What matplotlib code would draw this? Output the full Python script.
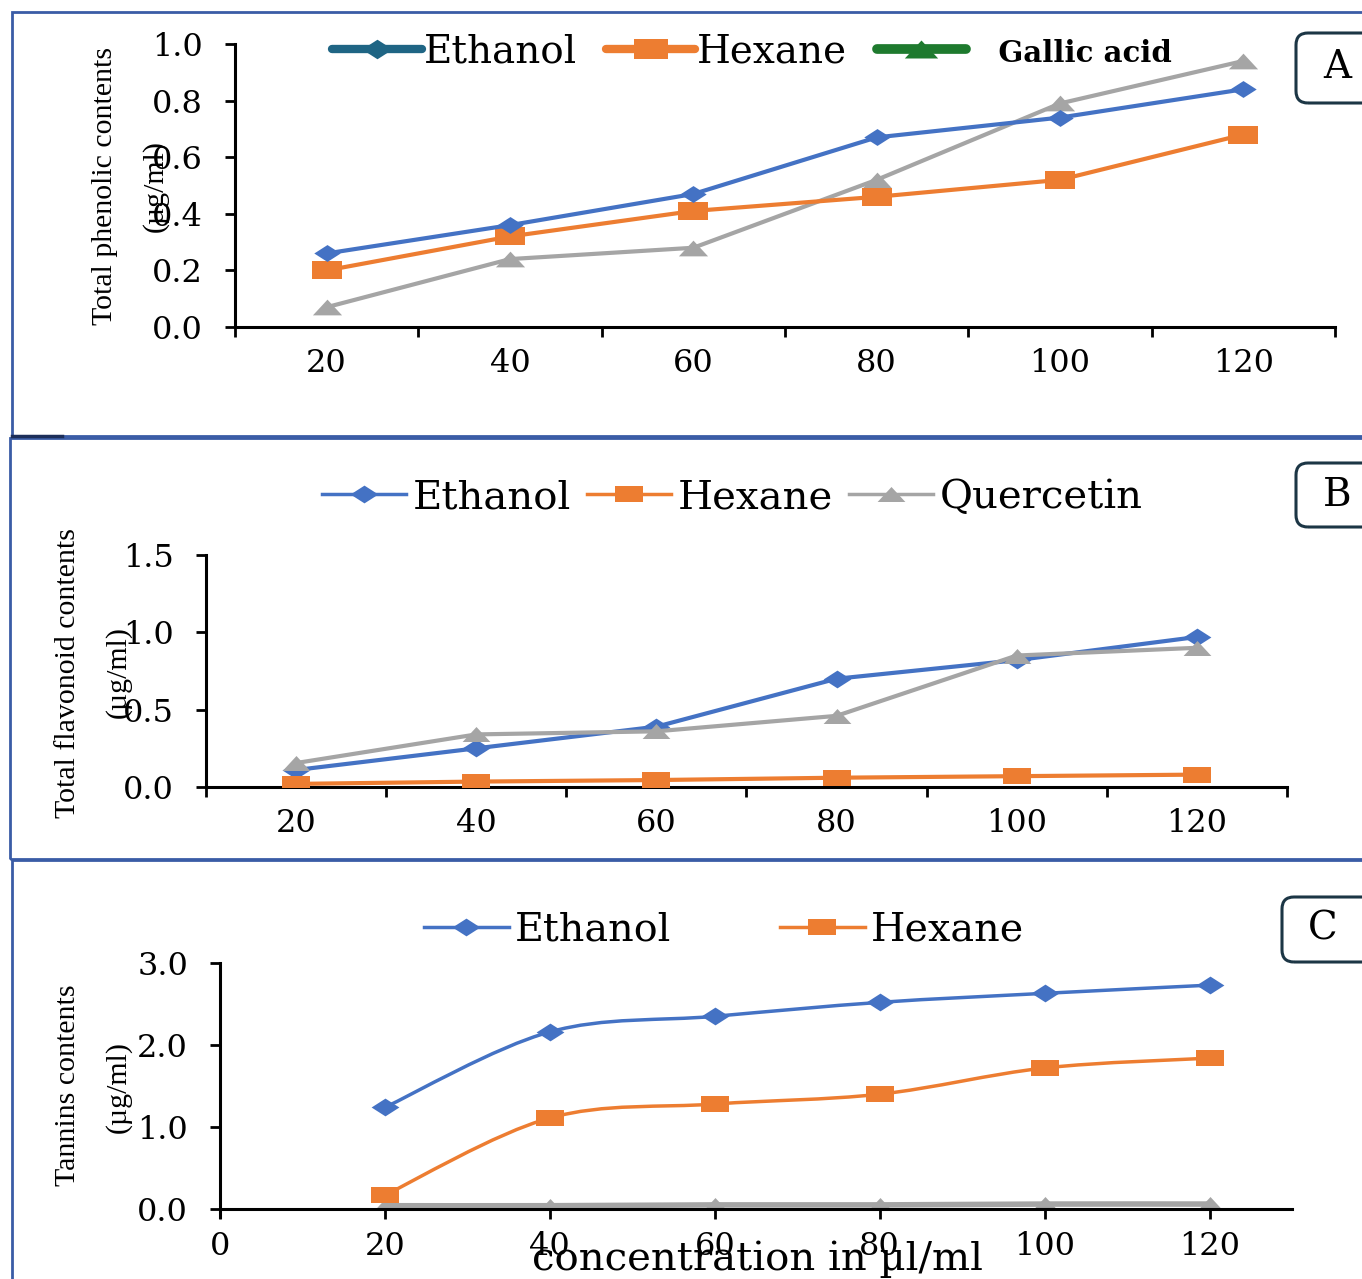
import numpy as np
import matplotlib
matplotlib.use("Agg")
import matplotlib.pyplot as plt
from matplotlib.path import Path
from matplotlib.patches import PathPatch, Rectangle, FancyBboxPatch
from matplotlib.lines import Line2D

# ---- data ----
conc = [20, 40, 60, 80, 100, 120]
conc_labels = ["20", "40", "60", "80", "100", "120"]

# A: total phenolic contents (ug/ml)
phen_ethanol = [0.26, 0.36, 0.47, 0.67, 0.74, 0.84]
phen_hexane = [0.20, 0.32, 0.41, 0.46, 0.52, 0.68]
phen_gallic = [0.07, 0.24, 0.28, 0.52, 0.79, 0.94]

# B: total flavonoid contents (ug/ml)
flav_ethanol = [0.11, 0.25, 0.39, 0.70, 0.82, 0.97]
flav_hexane = [0.02, 0.035, 0.045, 0.06, 0.07, 0.08]
flav_quercetin = [0.155, 0.34, 0.36, 0.46, 0.85, 0.90]

# C: tannins contents (ug/ml)
tan_ethanol = [1.24, 2.16, 2.35, 2.52, 2.63, 2.73]
tan_hexane = [0.17, 1.11, 1.28, 1.40, 1.72, 1.84]
tan_std = [0.04, 0.04, 0.05, 0.05, 0.06, 0.06]

BLUE = "#4472C4"
ORANGE = "#ED7D31"
GRAY = "#A5A5A5"
TEAL = "#1F6584"
GREEN = "#1E7A2E"
FRAME = "#3A5CA6"
SERIF = "DejaVu Serif"
SERIF2 = "Liberation Serif"

# stretched marker shapes (source picture is wider than tall)
DIAMOND = Path([(0, 0.32), (0.5, 0), (0, -0.32), (-0.5, 0), (0, 0.32)],
               [Path.MOVETO, Path.LINETO, Path.LINETO, Path.LINETO, Path.CLOSEPOLY])
SQUARE = Path([(-0.5, -0.3), (0.5, -0.3), (0.5, 0.3), (-0.5, 0.3), (-0.5, -0.3)],
              [Path.MOVETO, Path.LINETO, Path.LINETO, Path.LINETO, Path.CLOSEPOLY])
TRIANGLE = Path([(-0.5, -0.27), (0.5, -0.27), (0, 0.27), (-0.5, -0.27)],
                [Path.MOVETO, Path.LINETO, Path.LINETO, Path.CLOSEPOLY])


def smooth_path(x, y):
    # Excel style smoothed line as cubic bezier segments
    pts = np.column_stack([x, y]).astype(float)
    n = len(pts)
    verts = [pts[0]]
    codes = [Path.MOVETO]
    for i in range(n - 1):
        p0 = pts[max(i - 1, 0)]
        p1 = pts[i]
        p2 = pts[i + 1]
        p3 = pts[min(i + 2, n - 1)]
        verts += [p1 + (p2 - p0) / 6, p2 - (p3 - p1) / 6, p2]
        codes += [Path.CURVE4] * 3
    return Path(verts, codes)


W, H = 1362, 1279
fig = plt.figure(figsize=(W / 100, H / 100), dpi=100)


def px_axes(l, t, r, b):
    return fig.add_axes([l / W, 1 - b / H, (r - l) / W, (b - t) / H])


def style_axes(ax, yfmt="%.1f"):
    for s in ["top", "right"]:
        ax.spines[s].set_visible(False)
    for s in ["left", "bottom"]:
        ax.spines[s].set_linewidth(2.2)
        ax.spines[s].set_color("black")
    ax.tick_params(axis="both", which="major", direction="out", length=7, width=2,
                   labelsize=23, colors="black")
    ax.tick_params(axis="y", pad=16)
    ax.yaxis.set_major_formatter(matplotlib.ticker.FormatStrFormatter(yfmt))
    for lab in ax.get_xticklabels(which="both") + ax.get_yticklabels():
        lab.set_fontfamily(SERIF)


def category_axis(ax):
    ax.set_xlim(0, 6)
    ax.set_xticks(range(7))
    ax.set_xticklabels([])
    ax.set_xticks(np.arange(6) + 0.5, minor=True)
    ax.set_xticklabels(conc_labels, minor=True, fontfamily=SERIF, fontsize=23)
    ax.tick_params(axis="x", which="minor", length=0, pad=15)


# ---- panel frames ----
fig.add_artist(Rectangle((12 / W, 1 - 436 / H), 1.0, 424 / H, transform=fig.transFigure,
                         fill=False, edgecolor=FRAME, lw=2))
fig.add_artist(Line2D([12 / W, 62 / W], [1 - 436 / H, 1 - 436 / H], transform=fig.transFigure,
                      color="#1C2E5A", lw=2.5))
fig.add_artist(Rectangle((10 / W, 1 - 859 / H), 1.0, 421 / H, transform=fig.transFigure,
                         fill=False, edgecolor=FRAME, lw=2))
fig.add_artist(Rectangle((12 / W, -0.01), 1.0, 1 - 860 / H + 0.01, transform=fig.transFigure,
                         fill=False, edgecolor=FRAME, lw=2))

# ---- panel A ----
xa = np.arange(6) + 0.5
axA = px_axes(235, 44, 1335, 327)
axA.plot(xa, phen_gallic, color=GRAY, lw=3, marker=TRIANGLE, ms=21, mew=0)
axA.plot(xa, phen_hexane, color=ORANGE, lw=3, marker=SQUARE, ms=21, mew=0)
axA.plot(xa, phen_ethanol, color=BLUE, lw=3, marker=DIAMOND, ms=19, mew=0)
axA.set_ylim(0, 1.0)
axA.set_yticks([0, 0.2, 0.4, 0.6, 0.8, 1.0])
category_axis(axA)
style_axes(axA)

hA = [Line2D([], [], color=TEAL, lw=6, solid_capstyle="round", marker=DIAMOND, ms=22, mew=0),
      Line2D([], [], color=ORANGE, lw=6, solid_capstyle="round", marker=SQUARE, ms=24, mew=0),
      Line2D([], [], color=GREEN, lw=7, solid_capstyle="round", marker=TRIANGLE, ms=24, mew=0)]
legA = axA.legend(hA, ["Ethanol", "Hexane", "   Gallic acid"], ncol=3, frameon=False,
                  loc="center", bbox_to_anchor=(752 / W, 1 - 52 / H), bbox_transform=fig.transFigure,
                  prop={"family": SERIF, "size": 28}, handlelength=2.3, handletextpad=0.05,
                  columnspacing=0.75, borderpad=0)
legA.get_texts()[2].set_fontweight("bold")
legA.get_texts()[2].set_fontsize(21)

# ---- panel B ----
axB = px_axes(206, 555, 1287, 787)
axB.plot(xa, flav_ethanol, color=BLUE, lw=3, marker=DIAMOND, ms=20, mew=0, zorder=3)
axB.plot(xa, flav_hexane, color=ORANGE, lw=3, marker=SQUARE, ms=20, mew=0, zorder=3)
axB.plot(xa, flav_quercetin, color=GRAY, lw=3, marker=TRIANGLE, ms=20, mew=0, zorder=3)
axB.set_ylim(0, 1.5)
axB.set_yticks([0, 0.5, 1.0, 1.5])
category_axis(axB)
style_axes(axB)

hB = [Line2D([], [], color=BLUE, lw=2.5, marker=DIAMOND, ms=20, mew=0),
      Line2D([], [], color=ORANGE, lw=2.5, marker=SQUARE, ms=20, mew=0),
      Line2D([], [], color=GRAY, lw=2.5, marker=TRIANGLE, ms=20, mew=0)]
axB.legend(hB, ["Ethanol", "Hexane", "Quercetin"], ncol=3, frameon=False,
           loc="center", bbox_to_anchor=(732 / W, 1 - 498 / H), bbox_transform=fig.transFigure,
           prop={"family": SERIF, "size": 29}, handlelength=2.1, handletextpad=0.15,
           columnspacing=0.4, borderpad=0)

# ---- panel C ----
axC = px_axes(220, 963, 1292, 1209)
for yv, col, mk, lw in [(tan_std, GRAY, TRIANGLE, 4), (tan_hexane, ORANGE, SQUARE, 2.5),
                        (tan_ethanol, BLUE, DIAMOND, 2.5)]:
    axC.add_patch(PathPatch(smooth_path(conc, yv), fill=False, edgecolor=col, lw=lw,
                            capstyle="round"))
    axC.plot(conc, yv, ls="none", marker=mk, ms=20, color=col, mew=0)
axC.set_xlim(0, 130)
axC.set_xticks([0, 20, 40, 60, 80, 100, 120])
axC.set_yticks([0, 1.0, 2.0, 3.0])
axC.spines["left"].set_bounds(-0.1, 3.0)
axC.set_ylim(0, 3.0)
style_axes(axC)
axC.xaxis.set_major_formatter(matplotlib.ticker.FormatStrFormatter("%d"))
axC.tick_params(axis="x", pad=9)

hC = [Line2D([], [], color=BLUE, lw=2.5, marker=DIAMOND, ms=20, mew=0),
      Line2D([], [], color=ORANGE, lw=2.5, marker=SQUARE, ms=20, mew=0)]
axC.legend(hC, ["Ethanol", "Hexane"], ncol=2, frameon=False,
           loc="center", bbox_to_anchor=(724 / W, 1 - 930 / H), bbox_transform=fig.transFigure,
           prop={"family": SERIF, "size": 28.5}, handlelength=2.15, handletextpad=0.15,
           columnspacing=2.75, borderpad=0)

fig.text(758 / W, 1 - 1259 / H, "concentration in µl/ml", ha="center", va="center",
         fontsize=29, fontfamily=SERIF)

# ---- y axis titles ----
ylabs = [("Total phenolic contents", 105, 186), ("(µg/ml)", 155, 186),
         ("Total flavonoid contents", 68, 673), ("(µg/ml)", 118, 672),
         ("Tannins contents", 68, 1085), ("(µg/ml)", 118, 1087)]
for txt, x, y in ylabs:
    fig.text(x / W, 1 - y / H, txt, rotation=90, ha="center", va="center",
             fontsize=21.5, fontfamily=SERIF2)

# ---- panel letters ----
for letter, x0, y0, y1 in [("A", 1296, 33, 103), ("B", 1296, 463, 527), ("C", 1282, 897, 962)]:
    fig.add_artist(FancyBboxPatch((x0 / 100, (H - y1) / 100), 1.2, (y1 - y0) / 100,
                                  boxstyle="round,pad=0,rounding_size=0.12",
                                  transform=fig.dpi_scale_trans, fill=False,
                                  edgecolor="#1C3645", lw=2.2))
    fig.text((x0 + 41) / W, 1 - ((y0 + y1) / 2) / H, letter, ha="center", va="center",
             fontsize=28, fontfamily=SERIF)

fig.savefig("out.png", dpi=100)
